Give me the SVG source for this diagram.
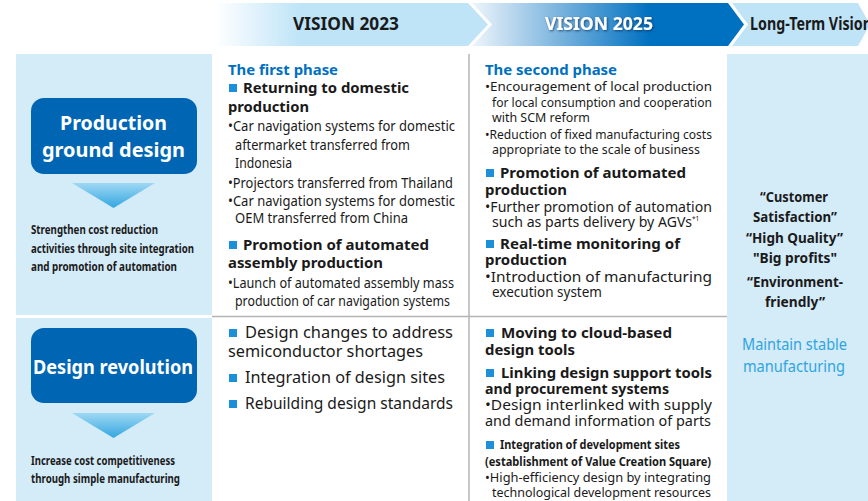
<svg xmlns="http://www.w3.org/2000/svg" width="868" height="501" viewBox="0 0 868 501">
<defs>
<linearGradient id="g23" x1="215" y1="0" x2="300" y2="0" gradientUnits="userSpaceOnUse"><stop offset="0" stop-color="#ffffff"/><stop offset="1" stop-color="#bfe4f8"/></linearGradient>
<linearGradient id="g25" x1="472" y1="0" x2="650" y2="0" gradientUnits="userSpaceOnUse"><stop offset="0" stop-color="#eef5fb"/><stop offset="1" stop-color="#0070c0"/></linearGradient>
<linearGradient id="tri" x1="0" y1="0" x2="0" y2="1"><stop offset="0" stop-color="#9fd8f3"/><stop offset="1" stop-color="#33a6e0"/></linearGradient>
<filter id="sh" x="-10%" y="-30%" width="120%" height="160%"><feDropShadow dx="1" dy="1" stdDeviation="0.8" flood-color="#002a55" flood-opacity="0.7"/></filter>
<style>
text{font-family:"Noto Sans","Open Sans","DejaVu Sans",sans-serif;fill:#1a1a1a}
.hd{font-size:17px;font-weight:bold}
.ph{font-size:15px;font-weight:bold;fill:#0070c0}
.b{font-size:15px;font-weight:bold}
.r{font-size:13.5px}
.s{font-size:12.5px}
.c{font-size:12.5px;font-weight:bold}
.box{fill:#0066b3}
.bt{font-size:20px;font-weight:bold;fill:#ffffff}
.sq{fill:#1b8fd8}
.pan{fill:#d4ebf8}
.rt{font-size:14px;font-weight:bold}
.mt{font-size:16px;fill:#2fa5e0}
.ln{stroke:#b4b4b4;stroke-width:1.5;fill:none}
</style>
</defs>

<g id="header">
<polygon points="215,3 468,3 488,24.5 468,46 215,46" fill="url(#g23)"/>
<polygon points="472,3 728,3 744,24.5 728,46 472,46 492,24.5" fill="url(#g25)"/>
<polygon points="732,3 858,3 870,24.5 858,46 732,46 748,24.5" fill="#bfe4f8"/>
<text class="hd" x="293" y="30" textLength="106" lengthAdjust="spacingAndGlyphs">VISION 2023</text>
<text class="hd" x="545" y="30" textLength="108" lengthAdjust="spacingAndGlyphs" style="fill:#ffffff" filter="url(#sh)">VISION 2025</text>
<text class="hd" x="750" y="30" textLength="122" lengthAdjust="spacingAndGlyphs">Long-Term Vision</text>
</g>

<g id="panels">
<rect class="pan" x="16" y="54" width="196" height="261"/>
<rect class="pan" x="16" y="318" width="196" height="183"/>
<rect class="pan" x="727" y="54" width="141" height="447"/>
</g>

<g id="connectors">
<line class="ln" x1="469" y1="54" x2="469" y2="501"/>
<line class="ln" x1="212" y1="316.5" x2="727" y2="316.5"/>
</g>

<g id="production-ground-design">
<rect class="box" x="31" y="98" width="166" height="76" rx="13"/>
<text class="bt" x="113.5" y="130" text-anchor="middle" textLength="107" lengthAdjust="spacingAndGlyphs">Production</text>
<text class="bt" x="113.5" y="157" text-anchor="middle" textLength="143" lengthAdjust="spacingAndGlyphs">ground design</text>
<polygon points="72,183 155,183 113.5,208" fill="url(#tri)"/>
<text class="c" x="31" y="234" textLength="127" lengthAdjust="spacingAndGlyphs">Strengthen cost reduction</text>
<text class="c" x="31" y="253" textLength="163" lengthAdjust="spacingAndGlyphs">activities through site integration</text>
<text class="c" x="31" y="271" textLength="146" lengthAdjust="spacingAndGlyphs">and promotion of automation</text>
</g>

<g id="design-revolution">
<rect class="box" x="31" y="328" width="166" height="75" rx="13"/>
<text class="bt" x="113" y="374" text-anchor="middle" textLength="160" lengthAdjust="spacingAndGlyphs">Design revolution</text>
<polygon points="72,413 155,413 113.5,438" fill="url(#tri)"/>
<text class="c" x="31" y="465" textLength="144" lengthAdjust="spacingAndGlyphs">Increase cost competitiveness</text>
<text class="c" x="31" y="483" textLength="149" lengthAdjust="spacingAndGlyphs">through simple manufacturing</text>
</g>

<g id="vision2023-production">
<text class="ph" x="228" y="75" textLength="110" lengthAdjust="spacingAndGlyphs">The first phase</text>
<rect class="sq" x="229" y="84" width="8" height="8"/>
<text class="b" x="243" y="93" textLength="166" lengthAdjust="spacingAndGlyphs">Returning to domestic</text>
<text class="b" x="228" y="112" textLength="81" lengthAdjust="spacingAndGlyphs">production</text>
<text class="r" x="228" y="131" textLength="227" lengthAdjust="spacingAndGlyphs">•Car navigation systems for domestic</text>
<text class="r" x="235" y="150" textLength="175" lengthAdjust="spacingAndGlyphs">aftermarket transferred from</text>
<text class="r" x="235" y="168" textLength="57" lengthAdjust="spacingAndGlyphs">Indonesia</text>
<text class="r" x="228" y="188" textLength="225" lengthAdjust="spacingAndGlyphs">•Projectors transferred from Thailand</text>
<text class="r" x="228" y="206" textLength="227" lengthAdjust="spacingAndGlyphs">•Car navigation systems for domestic</text>
<text class="r" x="235" y="223" textLength="173" lengthAdjust="spacingAndGlyphs">OEM transferred from China</text>
<rect class="sq" x="229" y="241" width="8" height="8"/>
<text class="b" x="243" y="250" textLength="186" lengthAdjust="spacingAndGlyphs">Promotion of automated</text>
<text class="b" x="228" y="268" textLength="155" lengthAdjust="spacingAndGlyphs">assembly production</text>
<text class="r" x="228" y="288" textLength="226" lengthAdjust="spacingAndGlyphs">•Launch of automated assembly mass</text>
<text class="r" x="235" y="306" textLength="215" lengthAdjust="spacingAndGlyphs">production of car navigation systems</text>
</g>

<g id="vision2025-production">
<text class="ph" x="485" y="75" textLength="132" lengthAdjust="spacingAndGlyphs">The second phase</text>
<text class="s" x="485" y="91" textLength="227" lengthAdjust="spacingAndGlyphs">•Encouragement of local production</text>
<text class="s" x="492" y="107" textLength="220" lengthAdjust="spacingAndGlyphs">for local consumption and cooperation</text>
<text class="s" x="492" y="122" textLength="98" lengthAdjust="spacingAndGlyphs">with SCM reform</text>
<text class="s" x="485" y="139" textLength="227" lengthAdjust="spacingAndGlyphs">•Reduction of fixed manufacturing costs</text>
<text class="s" x="492" y="154" textLength="208" lengthAdjust="spacingAndGlyphs">appropriate to the scale of business</text>
<rect class="sq" x="486" y="169" width="8" height="8"/>
<text class="b" x="500" y="178" textLength="186" lengthAdjust="spacingAndGlyphs">Promotion of automated</text>
<text class="b" x="485" y="195" textLength="82" lengthAdjust="spacingAndGlyphs">production</text>
<text class="r" x="485" y="212" textLength="227" lengthAdjust="spacingAndGlyphs">•Further promotion of automation</text>
<text class="r" x="492" y="227" textLength="200" lengthAdjust="spacingAndGlyphs">such as parts delivery by AGVs</text>
<text x="692" y="221" style="font-size:6.5px">*1</text>
<rect class="sq" x="486" y="240" width="8" height="8"/>
<text class="b" x="500" y="249" textLength="180" lengthAdjust="spacingAndGlyphs">Real-time monitoring of</text>
<text class="b" x="485" y="265" textLength="82" lengthAdjust="spacingAndGlyphs">production</text>
<text class="r" x="485" y="282" textLength="227" lengthAdjust="spacingAndGlyphs">•Introduction of manufacturing</text>
<text class="r" x="492" y="297" textLength="110" lengthAdjust="spacingAndGlyphs">execution system</text>
</g>

<g id="vision2023-design">
<rect class="sq" x="229" y="329" width="8" height="8"/>
<text x="245" y="338" style="font-size:16px" textLength="208" lengthAdjust="spacingAndGlyphs">Design changes to address</text>
<text x="228" y="357" style="font-size:16px" textLength="195" lengthAdjust="spacingAndGlyphs">semiconductor shortages</text>
<rect class="sq" x="229" y="374" width="8" height="8"/>
<text x="245" y="383" style="font-size:16px" textLength="200" lengthAdjust="spacingAndGlyphs">Integration of design sites</text>
<rect class="sq" x="229" y="400" width="8" height="8"/>
<text x="245" y="409" style="font-size:16px" textLength="208" lengthAdjust="spacingAndGlyphs">Rebuilding design standards</text>
</g>

<g id="vision2025-design">
<rect class="sq" x="486" y="329" width="8" height="8"/>
<text class="b" x="501" y="338" textLength="171" lengthAdjust="spacingAndGlyphs">Moving to cloud-based</text>
<text class="b" x="485" y="355" textLength="90" lengthAdjust="spacingAndGlyphs">design tools</text>
<rect class="sq" x="486" y="369" width="8" height="8"/>
<text class="b" x="501" y="378" textLength="211" lengthAdjust="spacingAndGlyphs">Linking design support tools</text>
<text class="b" x="485" y="394" textLength="184" lengthAdjust="spacingAndGlyphs">and procurement systems</text>
<text class="r" x="485" y="410" textLength="227" lengthAdjust="spacingAndGlyphs">•Design interlinked with supply</text>
<text class="r" x="485" y="426" textLength="226" lengthAdjust="spacingAndGlyphs">and demand information of parts</text>
<rect class="sq" x="486" y="441" width="8" height="8"/>
<text class="c" x="500" y="449" textLength="180" lengthAdjust="spacingAndGlyphs">Integration of development sites</text>
<text class="c" x="485" y="466" textLength="226" lengthAdjust="spacingAndGlyphs">(establishment of Value Creation Square)</text>
<text class="s" x="485" y="482" textLength="226" lengthAdjust="spacingAndGlyphs">•High-efficiency design by integrating</text>
<text class="s" x="492" y="497" textLength="219" lengthAdjust="spacingAndGlyphs">technological development resources</text>
</g>

<g id="long-term-vision">
<text class="rt" x="794" y="202" text-anchor="middle" textLength="68" lengthAdjust="spacingAndGlyphs">“Customer</text>
<text class="rt" x="795" y="222" text-anchor="middle" textLength="84" lengthAdjust="spacingAndGlyphs">Satisfaction”</text>
<text class="rt" x="794.5" y="243" text-anchor="middle" textLength="97" lengthAdjust="spacingAndGlyphs">“High Quality”</text>
<text class="rt" x="795" y="263" text-anchor="middle" textLength="84" lengthAdjust="spacingAndGlyphs">"Big profits"</text>
<text class="rt" x="795" y="287" text-anchor="middle" textLength="96" lengthAdjust="spacingAndGlyphs">“Environment-</text>
<text class="rt" x="795" y="307" text-anchor="middle" textLength="60" lengthAdjust="spacingAndGlyphs">friendly”</text>
<text class="mt" x="794.5" y="350" text-anchor="middle" textLength="105" lengthAdjust="spacingAndGlyphs">Maintain stable</text>
<text class="mt" x="794" y="372" text-anchor="middle" textLength="102" lengthAdjust="spacingAndGlyphs">manufacturing</text>
</g>
</svg>
